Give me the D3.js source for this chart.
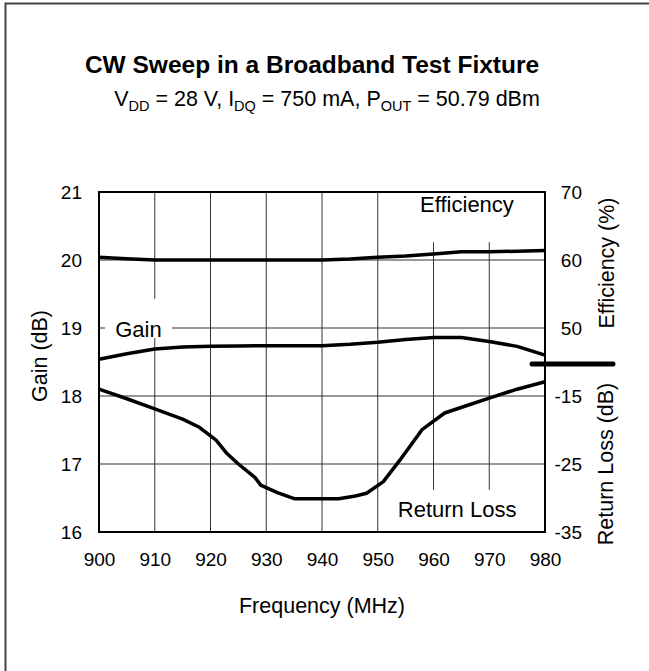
<!DOCTYPE html>
<html>
<head>
<meta charset="utf-8">
<script src="https://cdn.jsdelivr.net/npm/d3@7"></script>
<style>
  html, body { margin: 0; padding: 0; overflow: hidden; background: #fff; }
  svg { display: block; font-family: "Liberation Sans", Arial, sans-serif; }
</style>
</head>
<body>
<svg id="chart"></svg>
<script>
// data
const freq = [900, 905, 910, 915, 920, 925, 930, 935, 940, 945, 950, 955, 960, 965, 970, 975, 980];
const gain = [18.54, 18.62, 18.69, 18.72, 18.73, 18.735, 18.74, 18.74, 18.74, 18.76, 18.79, 18.83, 18.86, 18.86, 18.80, 18.73, 18.60];
const efficiency = [60.4, 60.2, 60.0, 60.0, 60.0, 60.0, 60.0, 60.0, 60.0, 60.15, 60.4, 60.6, 60.9, 61.2, 61.2, 61.3, 61.4];

const rlFreq = [900, 905, 910, 915, 918, 921, 923, 925, 928, 929, 932, 935, 940, 943, 946, 948, 951, 954, 958, 962, 966, 970, 975, 980];
const returnLoss = [-14.0, -15.4, -16.9, -18.4, -19.6, -21.5, -23.5, -25.0, -27.0, -28.1, -29.2, -30.1, -30.1, -30.1, -29.7, -29.3, -27.6, -24.4, -19.9, -17.5, -16.4, -15.3, -14.0, -12.9];

const freqTicks = [900, 910, 920, 930, 940, 950, 960, 970, 980];
const gainTicks = [16, 17, 18, 19, 20, 21];
const effTicks = [50, 60, 70];
const rlTicks = [-35, -25, -15];

const W = 649, H = 671;
const margin = { top: 192, left: 99, width: 446, height: 340 };

const svg = d3.select('#chart')
  .attr('width', W)
  .attr('height', H);

// outer frame: only top and left edges fall inside the picture
svg.append('path')
  .attr('d', `M5.5,${H} V3.5 H${W}`)
  .attr('fill', 'none')
  .attr('stroke', '#444')
  .attr('stroke-width', 2);

// titles
svg.append('text')
  .attr('x', 312).attr('y', 73)
  .attr('text-anchor', 'middle')
  .style('font-weight', 'bold')
  .style('font-size', '24.5px')
  .text('CW Sweep in a Broadband Test Fixture');

const sub = svg.append('text')
  .attr('x', 327).attr('y', 106)
  .attr('text-anchor', 'middle')
  .style('font-size', '21.5px');
[['V', 0], ['DD', 5], [' = 28 V, I', -5], ['DQ', 5],
 [' = 750 mA, P', -5], ['OUT', 5], [' = 50.79 dBm', -5]].forEach(([t, dy]) => {
  sub.append('tspan')
    .attr('dy', dy)
    .style('font-size', dy > 0 ? '14.5px' : null)
    .text(t);
});

const g = svg.append('g')
  .attr('transform', `translate(${margin.left},${margin.top})`);

const x = d3.scaleLinear().domain([900, 980]).range([0, margin.width]);
const yGain = d3.scaleLinear().domain([16, 21]).range([margin.height, 0]);
const yEff = d3.scaleLinear().domain([20, 70]).range([margin.height, 0]);
const yRL = d3.scaleLinear().domain([-35, 15]).range([margin.height, 0]);

// grid
g.selectAll('.vgrid').data(freqTicks).enter().append('line')
  .attr('x1', d => x(d)).attr('x2', d => x(d))
  .attr('y1', 0).attr('y2', margin.height)
  .attr('stroke', '#333').attr('stroke-width', 1);
g.selectAll('.hgrid').data(gainTicks).enter().append('line')
  .attr('x1', 0).attr('x2', margin.width)
  .attr('y1', d => yGain(d)).attr('y2', d => yGain(d))
  .attr('stroke', '#333').attr('stroke-width', 1);

// axes (labels only)
const plain = d => String(d);
const styleAxis = (sel) => {
  sel.select('.domain').remove();
  sel.selectAll('text').style('font-size', '19px').attr('fill', '#000');
};

g.append('g')
  .attr('transform', `translate(0,${margin.height})`)
  .call(d3.axisBottom(x).tickValues(freqTicks).tickSize(0).tickPadding(21).tickFormat(plain))
  .call(styleAxis);

g.append('g')
  .call(d3.axisLeft(yGain).tickValues(gainTicks).tickSize(0).tickPadding(17).tickFormat(plain))
  .call(styleAxis);

const rightAxis = (scale, ticks) => {
  const a = g.append('g')
    .attr('transform', `translate(${margin.width},0)`)
    .call(d3.axisRight(scale).tickValues(ticks).tickSize(0).tickFormat(plain))
    .call(styleAxis);
  a.selectAll('text').attr('text-anchor', 'end').attr('x', 37);
};
rightAxis(yEff, effTicks);
rightAxis(yRL, rlTicks);

// axis titles
svg.append('text')
  .attr('x', 322).attr('y', 613)
  .attr('text-anchor', 'middle')
  .style('font-size', '21.5px')
  .text('Frequency (MHz)');

const vTitle = (tx, ty, label) => svg.append('text')
  .attr('transform', `translate(${tx},${ty}) rotate(-90)`)
  .attr('text-anchor', 'middle')
  .style('font-size', '21.5px')
  .text(label);
vTitle(47, 356, 'Gain (dB)');
vTitle(613.5, 263, 'Efficiency (%)');
vTitle(613, 464, 'Return Loss (dB)');

// series labels with white backing
const seriesLabel = (lx, ly, bx0, bx1, by0, by1, label) => {
  g.append('rect')
    .attr('x', x(bx0)).attr('y', yGain(by1))
    .attr('width', x(bx1) - x(bx0)).attr('height', yGain(by0) - yGain(by1))
    .attr('fill', '#fff');
  g.append('text')
    .attr('x', x(lx)).attr('y', yGain(ly))
    .style('font-size', '22px')
    .text(label);
};
seriesLabel(902.9, 18.87, 901.1, 913.1, 18.85, 19.43, 'Gain');
seriesLabel(957.6, 20.71, 955.6, 977.4, 20.26, 21, 'Efficiency');
seriesLabel(953.6, 16.22, 951.6, 978.9, 16, 16.62, 'Return Loss');

// plot border
g.append('rect')
  .attr('width', margin.width).attr('height', margin.height)
  .attr('fill', 'none')
  .attr('stroke', '#000').attr('stroke-width', 2);

// series
const line = (yScale) => d3.line()
  .x(d => x(d[0]))
  .y(d => yScale(d[1]));

g.append('path')
  .attr('d', line(yGain)(freq.map((f, i) => [f, gain[i]])))
  .attr('fill', 'none').attr('stroke', '#000').attr('stroke-width', 3.5)
  .attr('stroke-linejoin', 'round');
g.append('path')
  .attr('d', line(yEff)(freq.map((f, i) => [f, efficiency[i]])))
  .attr('fill', 'none').attr('stroke', '#000').attr('stroke-width', 3.5)
  .attr('stroke-linejoin', 'round');
g.append('path')
  .attr('d', line(yRL)(rlFreq.map((f, i) => [f, returnLoss[i]])))
  .attr('fill', 'none').attr('stroke', '#000').attr('stroke-width', 3.5)
  .attr('stroke-linejoin', 'round');

// axis break marker on the right
g.append('line')
  .attr('x1', margin.width - 13).attr('x2', margin.width + 68)
  .attr('y1', yGain(18.47)).attr('y2', yGain(18.47))
  .attr('stroke', '#000').attr('stroke-width', 5)
  .attr('stroke-linecap', 'round');
</script>
</body>
</html>
